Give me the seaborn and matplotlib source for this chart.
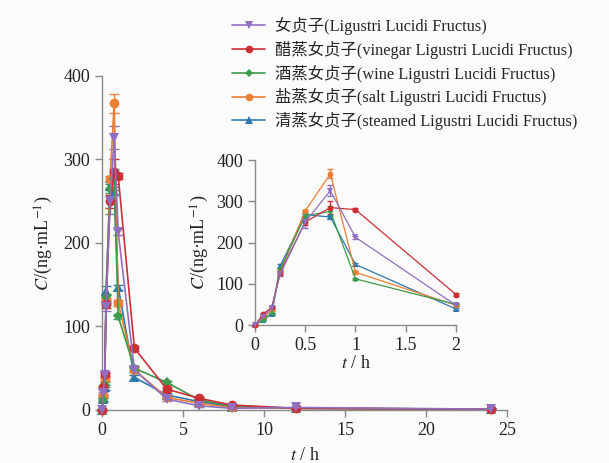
import numpy as np
import pandas as pd
import matplotlib
matplotlib.use("Agg")
import matplotlib.pyplot as plt
import seaborn as sns

# ---- data ----
times = [0, 0.083, 0.167, 0.25, 0.5, 0.75, 1, 2, 4, 6, 8, 12, 24]
labels = ["女贞子(Ligustri Lucidi Fructus)",
          "醋蒸女贞子(vinegar Ligustri Lucidi Fructus)",
          "酒蒸女贞子(wine Ligustri Lucidi Fructus)",
          "盐蒸女贞子(salt Ligustri Lucidi Fructus)",
          "清蒸女贞子(steamed Ligustri Lucidi Fructus)"]
raw = [0, 20, 42, 123, 250, 326, 213, 48, 13, 5, 2, 3, 1]
vinegar = [0, 27, 43, 127, 250, 285, 280, 74, 25, 14, 6, 2, 1]
wine = [0, 12, 30, 135, 265, 276, 112, 50, 33, 12, 5, 2, 1]
salt = [0, 17, 38, 130, 277, 367, 128, 48, 15, 8, 3, 2, 1]
steamed = [0, 13, 27, 143, 268, 262, 147, 39, 18, 10, 4, 2, 1]
raw_sd = [0, 2, 3, 5, 15, 14, 4, 3, 2, 1, 0.5, 0.5, 0.3]
vinegar_sd = [0, 2, 3, 5, 8, 15, 4, 3, 2, 1, 0.5, 0.5, 0.3]
wine_sd = [0, 2, 3, 4, 5, 12, 3, 3, 2, 1, 0.5, 0.5, 0.3]
salt_sd = [0, 2, 3, 4, 3, 11, 4, 3, 2, 1, 0.5, 0.5, 0.3]
steamed_sd = [0, 2, 3, 5, 5, 5, 3, 3, 2, 1, 0.5, 0.5, 0.3]

series = [raw, vinegar, wine, salt, steamed]
sds = [raw_sd, vinegar_sd, wine_sd, salt_sd, steamed_sd]
colors = ["#8f6fbf", "#cc2f36", "#3d9a4a", "#ea7f33", "#2f78b0"]
markers = ["v", "o", "D", "o", "^"]

rows = []
for lab, vals, sd in zip(labels, series, sds):
    for t, v, s in zip(times, vals, sd):
        rows.append({"t": t, "C": v, "sd": s, "group": lab})
df = pd.DataFrame(rows)

sns.set_theme(style="ticks")
plt.rcParams["font.family"] = ["Liberation Serif", "Noto Sans CJK SC"]
plt.rcParams["mathtext.fontset"] = "stix"
bg = "#fbfbfb"

fig = plt.figure(figsize=(6.09, 4.63), dpi=100, facecolor=bg)
ax = fig.add_axes([0.1675, 0.1145, 0.665, 0.7215], facecolor=bg)
ins = fig.add_axes([0.4187, 0.298, 0.330, 0.356], facecolor=bg)

palette = dict(zip(labels, colors))
mk = dict(zip(labels, markers))
draw_order = labels[::-1]


def draw(a, sub, ms, lw, cap):
    for lab, c in zip(labels, colors):
        s = sub[sub.group == lab]
        a.errorbar(s.t, s.C, yerr=s.sd, fmt="none", ecolor=c,
                   elinewidth=1, capsize=cap, capthick=1, clip_on=False, zorder=2)
    sns.lineplot(data=sub, x="t", y="C", hue="group", style="group",
                 hue_order=draw_order, style_order=draw_order,
                 palette=palette, markers=mk, dashes=False, ax=a,
                 markersize=ms, linewidth=lw, markeredgewidth=0,
                 legend=False, errorbar=None, clip_on=False, zorder=3)
    for line in a.lines:
        if line.get_marker() == "D":
            line.set_markersize(ms * 0.7)


draw(ax, df, 7, 1.2, 3.5)
draw(ins, df[df.t <= 2], 4.2, 0.9, 2)

for a in (ax, ins):
    for sp in ("top", "right"):
        a.spines[sp].set_visible(False)
    for sp in ("left", "bottom"):
        a.spines[sp].set_color("#8a8a8a")
        a.spines[sp].set_linewidth(1)
    a.tick_params(colors="#8a8a8a", labelcolor="#222222", labelsize=13,
                  length=5, width=1, direction="out")
    a.set_ylim(0, 400)
    a.set_yticks([0, 100, 200, 300, 400])

ax.set_xlim(0, 25)
ax.set_xticks([0, 5, 10, 15, 20, 25])
ins.set_xlim(0, 2)
ins.set_xticks([0, 0.5, 1, 1.5, 2])
ins.set_xticklabels(["0", "0.5", "1", "1.5", "2"])

ylab = r"$C$/(ng·mL$^{-1}$)"
xlab = r"$t$ / h"
ax.set_ylabel(ylab, fontsize=13, color="#222222", labelpad=6)
ax.set_xlabel(xlab, fontsize=13, color="#222222", labelpad=6)
ins.set_ylabel(ylab, fontsize=13, color="#222222", labelpad=4)
ins.set_xlabel(xlab, fontsize=13, color="#222222", labelpad=1)

handles = [plt.Line2D([], [], color=c, marker=m, markersize=5.5 if m != "D" else 4,
                      markeredgewidth=0, linewidth=1.2)
           for c, m in zip(colors, markers)]
fig.legend(handles, labels, loc="upper left", bbox_to_anchor=(0.365, 0.985),
           frameon=False, fontsize=11.8, handlelength=2.0, handletextpad=0.6,
           labelspacing=0.35, borderaxespad=0.2)

fig.savefig("out.png", dpi=100, facecolor=bg)
